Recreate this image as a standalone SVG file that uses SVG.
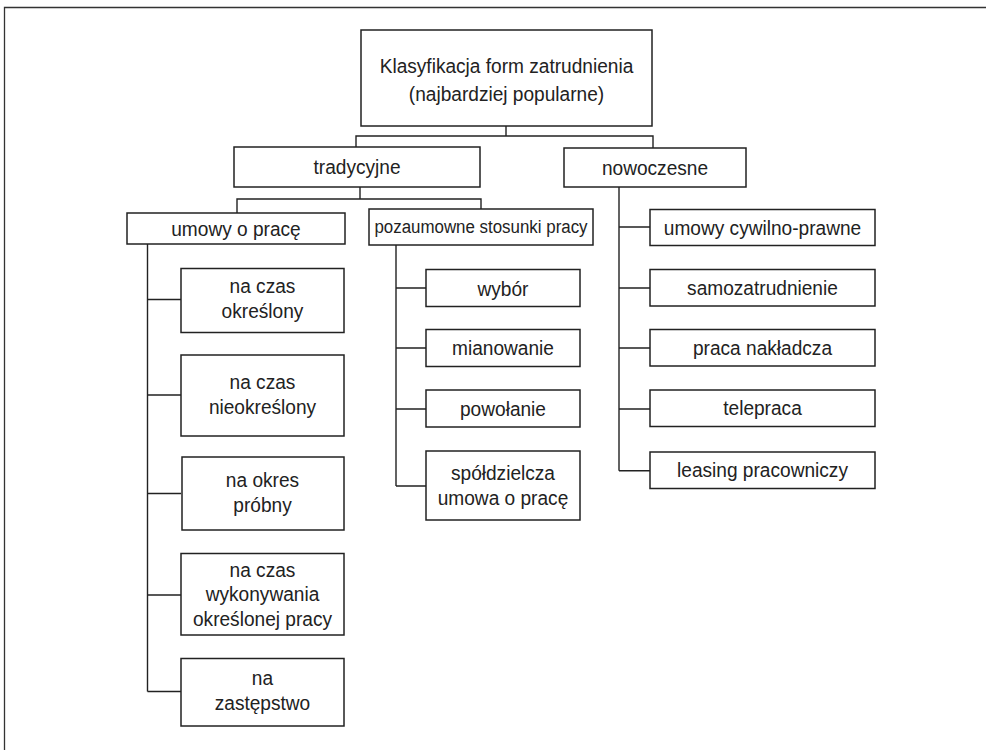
<svg xmlns="http://www.w3.org/2000/svg" width="986" height="750" viewBox="0 0 986 750">
<style>
.box{fill:#fff;stroke:#222;stroke-width:1.5}
.t{font-family:"Liberation Sans",Arial,sans-serif;font-size:21px;fill:#222;text-anchor:middle}
.s{font-size:19px}
.c{fill:none;stroke:#222;stroke-width:1.4}
.frame{fill:none;stroke:#333;stroke-width:1.3}
</style>
<rect width="986" height="750" fill="#fff"/>
<path class="frame" d="M4.5,750 V7.5 H986"/>
<g id="connectors">
<path class="c" d="M506,126 V136 M356,147 V136 H653 V148"/>
<path class="c" d="M360,187 V199 M237,213 V199 H481 V209"/>
<path class="c" d="M619,187 V470.7 M619,227 H650 M619,288 H650 M619,348 H650 M619,409 H650 M619,470.7 H650"/>
<path class="c" d="M396,245 V486 M396,288 H426 M396,348 H426 M396,409 H426 M396,486 H426"/>
<path class="c" d="M147.5,244 V691.5 M147.5,299.5 H181 M147.5,395 H181 M147.5,493.5 H181 M147.5,595 H181 M147.5,691.5 H181"/>
</g>
<g id="root"><rect class="box" x="361" y="30" width="291" height="96"/>
<g transform="matrix(0.91 0 0 1 45.585 0)"><text class="t" x="506.5" y="73.5">Klasyfikacja form zatrudnienia</text>
<text class="t" x="506.5" y="101">(najbardziej popularne)</text></g></g>
<g id="tradycyjne"><rect class="box" x="234" y="147" width="246" height="40"/><text class="t" transform="matrix(0.91 0 0 1 32.13 0)" x="357" y="174.5">tradycyjne</text></g>
<g id="nowoczesne"><rect class="box" x="564" y="148" width="182" height="39"/><text class="t" transform="matrix(0.91 0 0 1 58.95 0)" x="655" y="175">nowoczesne</text></g>
<g id="umowy"><rect class="box" x="127" y="213" width="218" height="31"/><text class="t" transform="matrix(0.91 0 0 1 21.24 0)" x="236" y="236">umowy o pracę</text></g>
<g id="pozaumowne"><rect class="box" x="369" y="209" width="224" height="36"/><text class="t s" transform="matrix(0.89 0 0 1 52.91 0)" x="481" y="233.5">pozaumowne stosunki pracy</text></g>
<g id="okreslony"><rect class="box" x="181" y="268.5" width="163" height="64"/><g transform="matrix(0.91 0 0 1 23.625 0)"><text class="t" x="262.5" y="293">na czas</text><text class="t" x="262.5" y="318.5">określony</text></g></g>
<g id="nieokreslony"><rect class="box" x="181" y="355" width="163" height="81"/><g transform="matrix(0.91 0 0 1 23.625 0)"><text class="t" x="262.5" y="389">na czas</text><text class="t" x="262.5" y="414.5">nieokreślony</text></g></g>
<g id="probny"><rect class="box" x="182" y="457" width="162" height="73"/><g transform="matrix(0.91 0 0 1 23.625 0)"><text class="t" x="262.5" y="487">na okres</text><text class="t" x="262.5" y="512.5">próbny</text></g></g>
<g id="wykonywania"><rect class="box" x="181" y="553.5" width="163" height="81.5"/><g transform="matrix(0.91 0 0 1 23.625 0)"><text class="t" x="262.5" y="577">na czas</text><text class="t" x="262.5" y="601.5">wykonywania</text><text class="t" x="262.5" y="626">określonej pracy</text></g></g>
<g id="zastepstwo"><rect class="box" x="181" y="658.5" width="163" height="67.5"/><g transform="matrix(0.91 0 0 1 23.625 0)"><text class="t" x="262.5" y="685">na</text><text class="t" x="262.5" y="710.5">zastępstwo</text></g></g>
<g id="wybor"><rect class="box" x="426" y="269.5" width="154" height="37"/><text class="t" transform="matrix(0.91 0 0 1 45.27 0)" x="503" y="295.5">wybór</text></g>
<g id="mianowanie"><rect class="box" x="426" y="329.5" width="154" height="37"/><text class="t" transform="matrix(0.91 0 0 1 45.27 0)" x="503" y="355.5">mianowanie</text></g>
<g id="powolanie"><rect class="box" x="426" y="390" width="154" height="37"/><text class="t" transform="matrix(0.91 0 0 1 45.27 0)" x="503" y="416">powołanie</text></g>
<g id="spoldzielcza"><rect class="box" x="426" y="451" width="154" height="69"/><g transform="matrix(0.91 0 0 1 45.27 0)"><text class="t" x="503" y="480">spółdzielcza</text><text class="t" x="503" y="505.5">umowa o pracę</text></g></g>
<g id="cywilno"><rect class="box" x="650" y="209.5" width="225" height="36"/><text class="t" transform="matrix(0.91 0 0 1 68.625 0)" x="762.5" y="235">umowy cywilno-prawne</text></g>
<g id="samozatrudnienie"><rect class="box" x="650" y="269.5" width="225" height="36.5"/><text class="t" transform="matrix(0.91 0 0 1 68.625 0)" x="762.5" y="295">samozatrudnienie</text></g>
<g id="naklad"><rect class="box" x="650" y="329.5" width="225" height="36.5"/><text class="t" transform="matrix(0.91 0 0 1 68.625 0)" x="762.5" y="355">praca nakładcza</text></g>
<g id="telepraca"><rect class="box" x="650" y="390" width="225" height="36.5"/><text class="t" transform="matrix(0.91 0 0 1 68.625 0)" x="762.5" y="415.5">telepraca</text></g>
<g id="leasing"><rect class="box" x="650" y="452" width="225" height="36.5"/><text class="t" transform="matrix(0.91 0 0 1 68.625 0)" x="762.5" y="477.5">leasing pracowniczy</text></g>
</svg>
